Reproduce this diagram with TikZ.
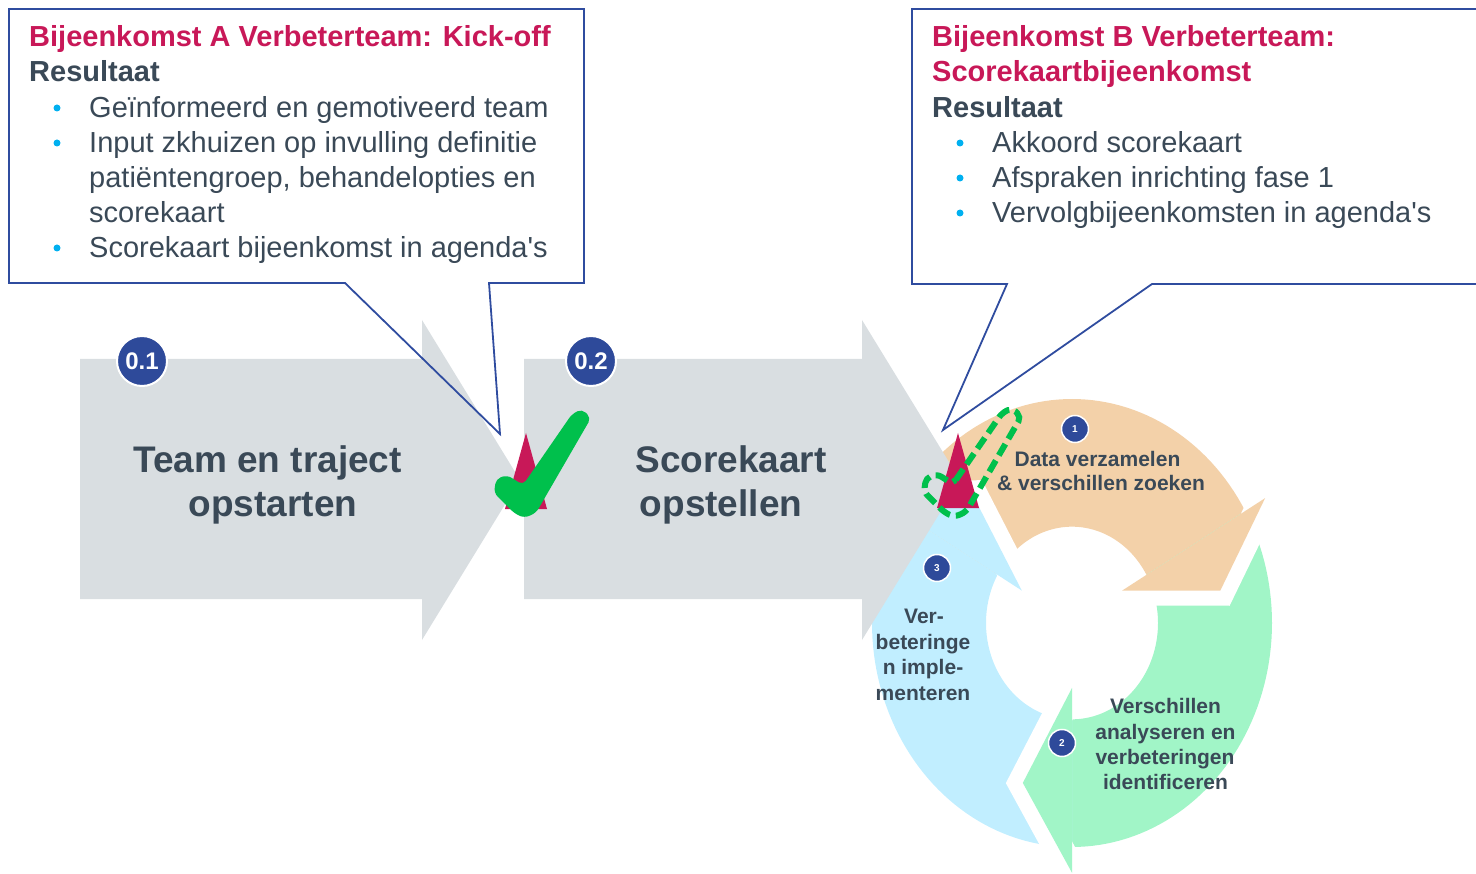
\documentclass[tikz,border=0pt]{standalone}
\usepackage{fontspec}
\setmainfont{Liberation Sans}[Ligatures=TeXOff]

\definecolor{titlered}{RGB}{200,24,88}
\definecolor{slate}{RGB}{58,73,87}
\definecolor{calloutblue}{RGB}{47,76,159}
\definecolor{badgeblue}{RGB}{46,74,154}
\definecolor{bulletcyan}{RGB}{0,176,240}
\definecolor{arrowgray}{RGB}{217,222,225}
\definecolor{cycorange}{RGB}{243,209,169}
\definecolor{cycgreen}{RGB}{161,245,199}
\definecolor{cycblue}{RGB}{193,238,255}
\definecolor{checkgreen}{RGB}{0,192,76}

\begin{document}
\begin{tikzpicture}[x=1pt,y=-1pt,
  callout/.style={draw=calloutblue, line width=1.8pt, line join=miter},
  headtext/.style={anchor=base west, inner sep=0pt, text=titlered, font=\fontsize{29}{35}\selectfont\bfseries},
  subhead/.style={anchor=base west, inner sep=0pt, text=slate, font=\fontsize{29}{35}\selectfont\bfseries},
  itemtext/.style={anchor=base west, inner sep=0pt, text=slate, font=\fontsize{29}{35}\selectfont},
  steptext/.style={anchor=base, inner sep=0pt, text=slate, font=\fontsize{37}{45}\selectfont\bfseries},
  cyctext/.style={anchor=base, inner sep=0pt, text=slate, font=\fontsize{21}{25}\selectfont\bfseries},
  phasebadge/.style={circle, fill=badgeblue, draw=white, line width=2pt, minimum size=50pt, inner sep=0pt, text=white, font=\fontsize{24}{24}\selectfont\bfseries},
  cycbadge/.style={circle, fill=badgeblue, draw=white, line width=1.5pt, minimum size=27pt, inner sep=0pt, text=white, font=\fontsize{10}{10}\selectfont\bfseries},
  bulletdot/.style={fill=bulletcyan},
  marker/.style={fill=titlered}
]
\useasboundingbox (0,0) rectangle (1476,874);
\clip (0,0) rectangle (1476,874);

% ---- improvement cycle: three ring arrows ----
\begin{scope}[xshift=1072pt, yshift=-623pt, x=1pt, y=1.12pt]
  \fill[cycorange] plot[domain=150:30, samples=61] (\x:200) -- plot[domain=30:150, samples=61] (\x:86) -- cycle;
  \fill[cycgreen]  plot[domain=30:-90, samples=61] (\x:200) -- plot[domain=-90:30, samples=61] (\x:86) -- cycle;
  \fill[cycblue]   plot[domain=-90:-210, samples=61] (\x:200) -- plot[domain=-210:-90, samples=61] (\x:86) -- cycle;
  \foreach \b/\c in {30/cycorange, -90/cycgreen, 150/cycblue} {
    \draw[white, line width=30pt, line join=miter] (\b:223) -- (\b-19:151) -- (\b:58);
    \fill[\c] (\b:223) -- (\b-19:151) -- (\b:58) -- cycle;
  }
\end{scope}

% ---- phase arrows ----
\fill[arrowgray] (80,359) -- (422,359) -- (422,320) -- (520,480) -- (422,640) -- (422,599) -- (80,599) -- cycle;
\fill[arrowgray] (524,359) -- (862,359) -- (862,320) -- (960,480) -- (862,640) -- (862,599) -- (524,599) -- cycle;

% ---- callouts ----
\draw[callout] (345,283) -- (9,283) -- (9,9) -- (584,9) -- (584,283) -- (489,283) -- (500,434) -- cycle;
\draw[callout] (1007,284) -- (912,284) -- (912,9) -- (1490,9) -- (1490,284) -- (1152,284) -- (943,430) -- cycle;

% left callout text
\node[headtext] (ta) at (29,47) {Bijeenkomst A Verbeterteam: Kick-off};
\node[subhead] (ra) at (29,82) {Resultaat};
\fill[bulletdot] (57,108) circle[radius=3.5];
\fill[bulletdot] (57,143) circle[radius=3.5];
\fill[bulletdot] (57,248) circle[radius=3.5];
\node[itemtext] (a1) at (89,118) {Geïnformeerd en gemotiveerd team};
\node[itemtext] (a2) at (89,153) {Input zkhuizen op invulling definitie};
\node[itemtext] (a3) at (89,188) {patiëntengroep, behandelopties en};
\node[itemtext] (a4) at (89,223) {scorekaart};
\node[itemtext] (a5) at (89,258) {Scorekaart bijeenkomst in agenda's};

% right callout text
\node[headtext] (tb1) at (932,47) {Bijeenkomst B Verbeterteam:};
\node[headtext] (tb2) at (932,82) {Scorekaartbijeenkomst};
\node[subhead] (rb) at (932,118) {Resultaat};
\fill[bulletdot] (960,143) circle[radius=3.5];
\fill[bulletdot] (960,178) circle[radius=3.5];
\fill[bulletdot] (960,213) circle[radius=3.5];
\node[itemtext] (b1) at (992,153) {Akkoord scorekaart};
\node[itemtext] (b2) at (992,188) {Afspraken inrichting fase 1};
\node[itemtext] (b3) at (992,223) {Vervolgbijeenkomsten in agenda's};

% ---- milestone markers ----
\fill[marker] (526,433) -- (547,509) -- (505,509) -- cycle;
\fill[checkgreen, rounded corners=5pt, shift={(524,515)}]
  (-1,-30) -- (48,-101) -- (58,-106) -- (67,-97) -- (12,-2) -- (0,3) -- (-10,-2) -- (-30,-22) -- (-28,-36) -- (-17,-40) -- cycle;

\fill[marker] (958,433) -- (979,508) -- (937,508) -- cycle;
\draw[checkgreen, line width=6pt, dash pattern=on 13pt off 6pt, rounded corners=5pt, shift={(954,514)}]
  (-1,-30) -- (48,-101) -- (58,-106) -- (67,-97) -- (12,-2) -- (0,3) -- (-10,-2) -- (-30,-22) -- (-28,-36) -- (-17,-40) -- cycle;

% ---- phase labels ----
\node[phasebadge] (p1) at (142,361) {0.1};
\node[phasebadge] (p2) at (591,361) {0.2};
\node[steptext] (s1a) at (267.5,472) {Team en traject};
\node[steptext] (s1b) at (273,517) {opstarten};
\node[steptext] (s2a) at (731,472) {Scorekaart};
\node[steptext] (s2b) at (721,517) {opstellen};

% ---- cycle labels ----
\node[cycbadge] (c1) at (1075,429) {1};
\node[cycbadge] (c2) at (1062,743) {2};
\node[cycbadge] (c3) at (937,568) {3};
\node[cyctext] (d1) at (1097.5,466.5) {Data verzamelen};
\node[cyctext] (d2) at (1101,491) {\& verschillen zoeken};
\node[cyctext] (v1) at (1165.5,713.5) {Verschillen};
\node[cyctext] (v2) at (1165.5,739) {analyseren en};
\node[cyctext] (v3) at (1165,764) {verbeteringen};
\node[cyctext] (v4) at (1165.5,789) {identificeren};
\node[cyctext] (i1) at (924,623.5) {Ver-};
\node[cyctext] (i2) at (923,649) {beteringe};
\node[cyctext] (i3) at (923,674.5) {n imple-};
\node[cyctext] (i4) at (923,700) {menteren};
\end{tikzpicture}
\end{document}
